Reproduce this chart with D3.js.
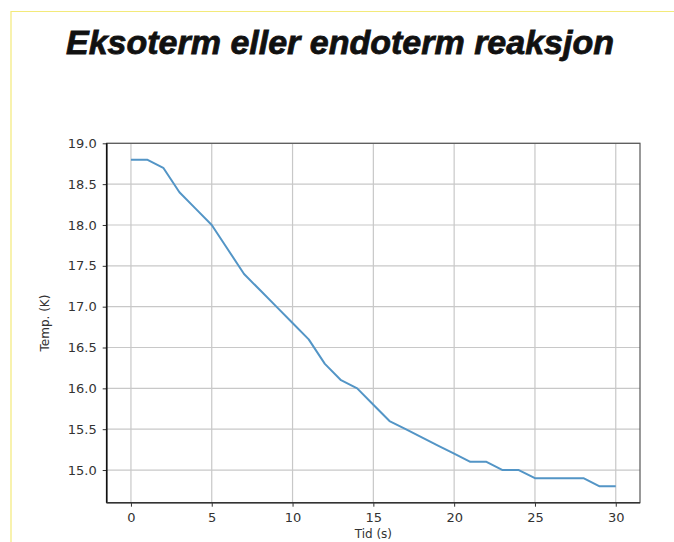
<!DOCTYPE html>
<html>
<head>
<meta charset="utf-8">
<script src="https://cdn.jsdelivr.net/npm/d3@7"></script>
<style>
  body { margin: 0; background: #fff; }
  svg { display: block; }
</style>
</head>
<body>
<svg id="chart" width="674" height="542"></svg>
<script>
// data
var tid = [0,1,2,3,4,5,6,7,8,9,10,11,12,13,14,15,16,17,18,19,20,21,22,23,24,25,26,27,28,29,30];
var temp = [18.8,18.8,18.7,18.4,18.2,18.0,17.7,17.4,17.2,17.0,16.8,16.6,16.3,16.1,16.0,15.8,15.6,15.5,15.4,15.3,15.2,15.1,15.1,15.0,15.0,14.9,14.9,14.9,14.9,14.8,14.8];
var xTicks = [0,5,10,15,20,25,30];
var yTicks = [15.0,15.5,16.0,16.5,17.0,17.5,18.0,18.5,19.0];

var svg = d3.select("#chart");

// gul ramme
svg.append("path")
  .attr("d", "M11,542 L11,11.5 L674,11.5")
  .attr("fill", "none")
  .attr("stroke", "#f3ea7a")
  .attr("stroke-width", 1.2);

// tittel
svg.append("text")
  .attr("x", 340)
  .attr("y", 54)
  .attr("text-anchor", "middle")
  .style("font-family", "'Liberation Sans', Arial, sans-serif")
  .style("font-weight", "bold")
  .style("font-style", "italic")
  .style("font-size", "34px")
  .attr("fill", "#111")
  .attr("stroke", "#111")
  .attr("stroke-width", 0.8)
  .text("Eksoterm eller endoterm reaksjon");

var pLeft = 106.7, pRight = 640, pTop = 143.3, pBottom = 502.7;

var x = d3.scaleLinear().domain([-1.5, 31.5]).range([pLeft, pRight]);
var y = d3.scaleLinear().domain([14.6, 19.0]).range([pBottom, pTop]);

// rutenett
svg.append("g").selectAll("line")
  .data(xTicks).enter().append("line")
  .attr("x1", d => x(d)).attr("x2", d => x(d))
  .attr("y1", pTop).attr("y2", pBottom)
  .attr("stroke", "#c8c8c8").attr("stroke-width", 1.2);
svg.append("g").selectAll("line")
  .data(yTicks).enter().append("line")
  .attr("x1", pLeft).attr("x2", pRight)
  .attr("y1", d => y(d)).attr("y2", d => y(d))
  .attr("stroke", "#c8c8c8").attr("stroke-width", 1.2);

// akser
var xAxis = d3.axisBottom(x).tickValues(xTicks).tickSize(4).tickPadding(6).tickFormat(d3.format("d"));
var yAxis = d3.axisLeft(y).tickValues(yTicks).tickSize(4).tickPadding(6).tickFormat(d3.format(".1f"));

var gx = svg.append("g").attr("transform", "translate(0," + pBottom + ")").call(xAxis);
var gy = svg.append("g").attr("transform", "translate(" + pLeft + ",0)").call(yAxis);
[gx, gy].forEach(g => {
  g.select(".domain").remove();
  g.selectAll("line").attr("stroke", "#333");
  g.selectAll("text")
    .style("font-family", "'DejaVu Sans', sans-serif")
    .style("font-size", "13px")
    .attr("fill", "#333");
});

// ramme rundt plottet
svg.append("rect")
  .attr("x", pLeft).attr("y", pTop)
  .attr("width", pRight - pLeft).attr("height", pBottom - pTop)
  .attr("fill", "none")
  .attr("stroke", "#555")
  .attr("stroke-width", 1.2);
svg.append("line")
  .attr("x1", pLeft).attr("x2", pLeft).attr("y1", pTop).attr("y2", pBottom)
  .attr("stroke", "#111").attr("stroke-width", 1.6);
svg.append("line")
  .attr("x1", pLeft).attr("x2", pRight).attr("y1", pBottom).attr("y2", pBottom)
  .attr("stroke", "#333").attr("stroke-width", 1.4);

// linja
var line = d3.line()
  .x((d, i) => x(tid[i]))
  .y(d => y(d));
svg.append("path")
  .datum(temp)
  .attr("d", line)
  .attr("fill", "none")
  .attr("stroke", "#5395c6")
  .attr("stroke-width", 2)
  .attr("stroke-linejoin", "round");

// akse-titler
svg.append("text")
  .attr("x", (pLeft + pRight) / 2)
  .attr("y", 538)
  .attr("text-anchor", "middle")
  .style("font-family", "'DejaVu Sans', sans-serif")
  .style("font-size", "12px")
  .attr("fill", "#333")
  .text("Tid (s)");
svg.append("text")
  .attr("transform", "translate(49," + ((pTop + pBottom) / 2) + ") rotate(-90)")
  .attr("text-anchor", "middle")
  .style("font-family", "'DejaVu Sans', sans-serif")
  .style("font-size", "12px")
  .attr("fill", "#333")
  .text("Temp. (K)");
</script>
</body>
</html>
